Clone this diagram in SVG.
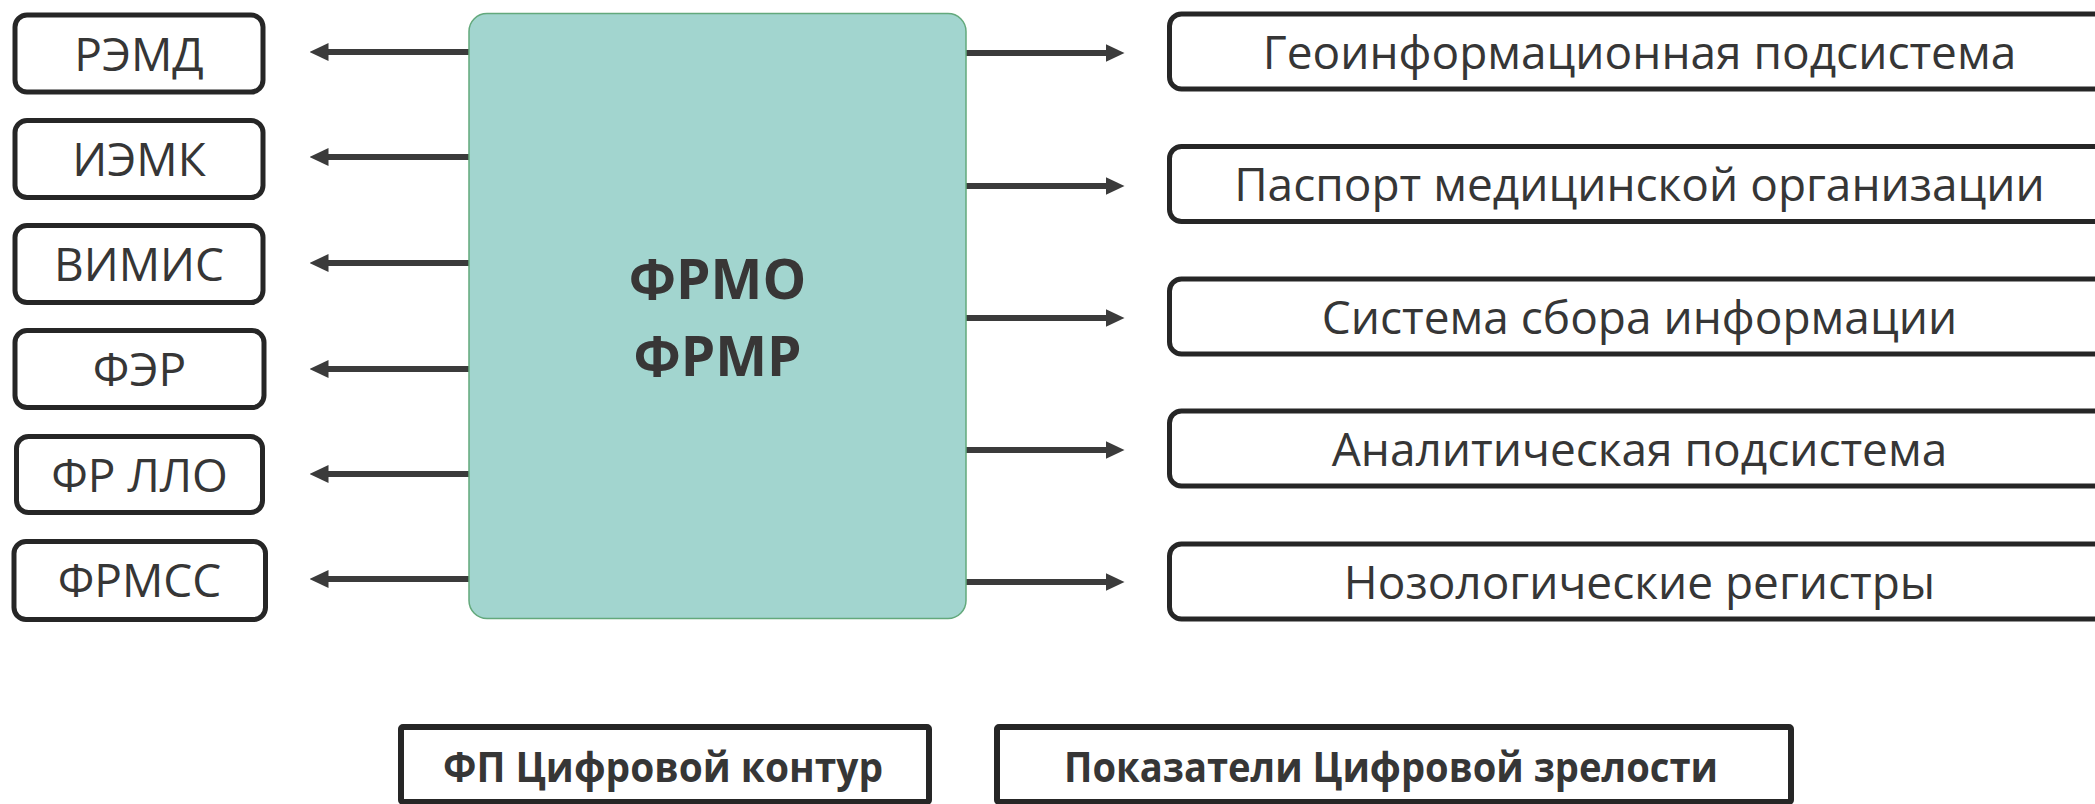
<svg xmlns="http://www.w3.org/2000/svg" width="2095" height="804" viewBox="0 0 2095 804">
<style>
.box{fill:#ffffff;stroke:#262626;stroke-width:5}
.sq{fill:#ffffff;stroke:#262626;stroke-width:6}
.lbl{font-family:"Open Sans","Liberation Sans",sans-serif;font-size:46px;fill:#363636;text-anchor:middle}
.big{font-family:"Open Sans","Liberation Sans",sans-serif;font-size:55px;font-weight:bold;fill:#383636;text-anchor:middle}
.bot{font-family:"Open Sans","Liberation Sans",sans-serif;font-size:42px;font-weight:bold;fill:#363636;text-anchor:middle}
.conn{stroke:#3b3b3b;stroke-width:6;fill:none;marker-end:url(#ah)}
</style>
<defs>
<marker id="ah" markerUnits="userSpaceOnUse" markerWidth="19" markerHeight="18" viewBox="0 0 19 18" refX="0.5" refY="9" orient="auto">
<path d="M0,0 L19,9 L0,18 Z" fill="#3b3b3b"/>
</marker>
</defs>
<rect width="2095" height="804" fill="#ffffff"/>
<g id="connectors">
<line class="conn" x1="469" y1="52" x2="328" y2="52"/>
<line class="conn" x1="469" y1="157" x2="328" y2="157"/>
<line class="conn" x1="469" y1="263" x2="328" y2="263"/>
<line class="conn" x1="469" y1="369" x2="328" y2="369"/>
<line class="conn" x1="469" y1="474" x2="328" y2="474"/>
<line class="conn" x1="469" y1="579" x2="328" y2="579"/>
<line class="conn" x1="966" y1="53" x2="1106" y2="53"/>
<line class="conn" x1="966" y1="186" x2="1106" y2="186"/>
<line class="conn" x1="966" y1="318" x2="1106" y2="318"/>
<line class="conn" x1="966" y1="450" x2="1106" y2="450"/>
<line class="conn" x1="966" y1="582" x2="1106" y2="582"/>
</g>
<g id="center">
<rect x="469" y="13.5" width="497" height="605" rx="18" fill="#a2d5cf" stroke="#63a97c" stroke-width="1.5"/>
<text class="big" x="717.5" y="299">ФРМО</text>
<text class="big" x="717.5" y="376">ФРМР</text>
</g>
<g id="remd"><rect class="box" x="15" y="15" width="248" height="77" rx="12"/><text class="lbl" x="139" y="70.5">РЭМД</text></g>
<g id="iemk"><rect class="box" x="15" y="120.5" width="248" height="77" rx="12"/><text class="lbl" x="139" y="176">ИЭМК</text></g>
<g id="vimis"><rect class="box" x="15" y="225.5" width="248" height="77" rx="12"/><text class="lbl" x="139" y="281">ВИМИС</text></g>
<g id="fer"><rect class="box" x="15" y="330.5" width="249" height="77" rx="12"/><text class="lbl" x="139.5" y="386">ФЭР</text></g>
<g id="frllo"><rect class="box" x="16.5" y="436.5" width="246" height="76" rx="12"/><text class="lbl" x="139.5" y="491.5">ФР ЛЛО</text></g>
<g id="frmss"><rect class="box" x="14" y="541.5" width="251.5" height="78" rx="12"/><text class="lbl" x="139.5" y="597">ФРМСС</text></g>
<g id="geo"><rect class="box" x="1169.5" y="14" width="960" height="75" rx="12"/><text class="lbl" x="1639.5" y="68.5">Геоинформационная подсистема</text></g>
<g id="passport"><rect class="box" x="1169.5" y="146.5" width="960" height="75" rx="12"/><text class="lbl" x="1639.5" y="201">Паспорт медицинской организации</text></g>
<g id="ssi"><rect class="box" x="1169.5" y="279" width="960" height="75" rx="12"/><text class="lbl" x="1639.5" y="333.5">Система сбора информации</text></g>
<g id="analytic"><rect class="box" x="1169.5" y="411" width="960" height="75" rx="12"/><text class="lbl" x="1639.5" y="465.5">Аналитическая подсистема</text></g>
<g id="nozo"><rect class="box" x="1169.5" y="544" width="960" height="75" rx="12"/><text class="lbl" x="1639.5" y="598.5">Нозологические регистры</text></g>
<g id="fp"><rect class="sq" x="401" y="727" width="528" height="75" rx="2"/><text class="bot" x="663" y="782" textLength="440" lengthAdjust="spacingAndGlyphs">ФП Цифровой контур</text></g>
<g id="cz"><rect class="sq" x="997" y="727" width="794" height="75" rx="2"/><text class="bot" x="1391" y="782" textLength="654" lengthAdjust="spacingAndGlyphs">Показатели Цифровой зрелости</text></g>
</svg>
